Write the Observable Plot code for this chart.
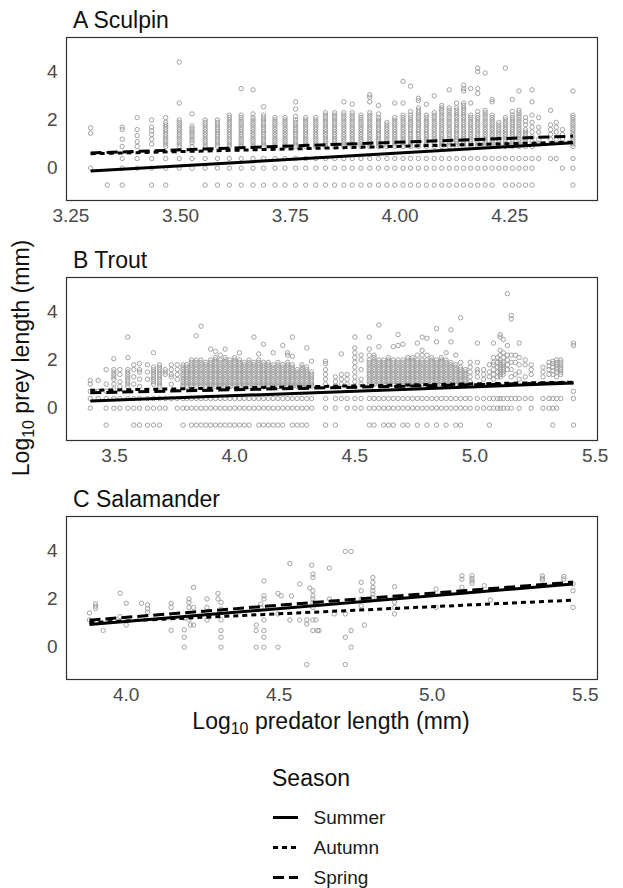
<!DOCTYPE html>
<html><head><meta charset="utf-8">
<script src="https://cdn.jsdelivr.net/npm/d3@7"></script>
<script src="https://cdn.jsdelivr.net/npm/@observablehq/plot@0.6"></script>
<style>
body{margin:0;background:#fff;}
#wrap{position:relative;width:623px;height:888px;font-family:"Liberation Sans",Arial,Helvetica,sans-serif;overflow:hidden;background:#fff;}
</style></head><body><div id="wrap"></div>
<script>
// ---------- DATA ----------
const seasons = ["Summer", "Autumn", "Spring"];
const yTicks = [0, 2, 4];
const sculpinTicks = [3.25, 3.5, 3.75, 4.0, 4.25];
const troutTicks = [3.5, 4.0, 4.5, 5.0, 5.5];
const salamanderTicks = [4.0, 4.5, 5.0, 5.5];

// Sculpin: predator x : prey y values in that column
const sculpinCols = [
"3.295:1.68 1.45 0",
"3.333:-0.7",
"3.367:1.7 1.6 1.2 0.9 0.4 0 -0.7",
"3.401:2.1 1.6 1.35 1.1 0.9 0.4 0",
"3.434:2.0 1.7 1.55 1.4 1.2 1.0 0.4 0 -0.7",
"3.466:2.1 1.9 1.8 1.7 1.6 1.5 1.4 1.3 1.2 1.1 1.0 0.9 0.4 0 -0.7",
"3.497:4.4 2.7 2.0 1.9 1.8 1.7 1.6 1.5 1.4 1.3 1.2 1.1 1.0 0.9 0.4 0",
"3.526:2.25 1.75 1.65 1.55 1.45 1.35 1.25 1.15 1.05 0.9 0.4 0",
"3.556:2.0 1.9 1.8 1.7 1.6 1.5 1.4 1.3 1.2 1.1 1.0 0.9 0.4 0 -0.7",
"3.584:2.0 1.9 1.8 1.7 1.6 1.5 1.4 1.3 1.2 1.1 1.0 0.9 0.4 0 -0.7",
"3.611:2.2 2.1 2.0 1.9 1.8 1.7 1.6 1.5 1.4 1.3 1.2 1.1 1.0 0.9 0.4 0 -0.7",
"3.638:3.3 2.2 2.1 2.0 1.9 1.8 1.7 1.6 1.5 1.4 1.3 1.2 1.1 1.0 0.9 0.4 0 -0.7",
"3.665:3.25 2.25 2.1 2.0 1.9 1.8 1.7 1.6 1.5 1.4 1.3 1.2 1.1 1.0 0.9 0.4 0 -0.7",
"3.689:2.55 2.2 2.1 2.0 1.9 1.8 1.7 1.6 1.5 1.4 1.3 1.2 1.1 1.0 0.9 0.4 0 -0.7",
"3.715:2.1 2.0 1.9 1.8 1.7 1.6 1.5 1.4 1.3 1.2 1.1 1.0 0.9 0.4 0 -0.7",
"3.738:2.1 2.0 1.9 1.8 1.7 1.6 1.5 1.4 1.3 1.2 1.1 1.0 0.9 0.4 0 -0.7",
"3.762:2.75 2.45 2.15 2.0 1.9 1.8 1.7 1.6 1.5 1.4 1.3 1.2 1.1 1.0 0.9 0.4 0 -0.7",
"3.785:2.1 2.0 1.9 1.8 1.7 1.6 1.5 1.4 1.3 1.2 1.1 1.0 0.9 0.4 0 -0.7",
"3.808:2.1 2.0 1.9 1.8 1.7 1.6 1.5 1.4 1.3 1.2 1.1 1.0 0.9 0.4 0 -0.7",
"3.830:2.3 2.2 2.1 2.0 1.9 1.8 1.7 1.6 1.5 1.4 1.3 1.2 1.1 1.0 0.9 0.4 0 -0.7",
"3.851:2.3 2.2 2.1 2.0 1.9 1.8 1.7 1.6 1.5 1.4 1.3 1.2 1.1 1.0 0.9 0.4 0 -0.7",
"3.872:2.75 2.3 2.2 2.1 2.0 1.9 1.8 1.7 1.6 1.5 1.4 1.3 1.2 1.1 1.0 0.9 0.4 0 -0.7",
"3.891:2.65 2.3 2.2 2.1 2.0 1.9 1.8 1.7 1.6 1.5 1.4 1.3 1.2 1.1 1.0 0.9 0.4 0 -0.7",
"3.911:2.2 2.1 2.0 1.9 1.8 1.7 1.6 1.5 1.4 1.3 1.2 1.1 1.0 0.9 0.4 0 -0.7",
"3.931:3.05 2.95 2.75 2.3 2.2 2.1 2.0 1.9 1.8 1.7 1.6 1.5 1.4 1.3 1.2 1.1 1.0 0.9 0.4 0 -0.7",
"3.951:2.6 2.25 2.1 2.0 1.9 1.8 1.7 1.6 1.5 1.4 1.3 1.2 1.1 1.0 0.9 0.4 0 -0.7",
"3.970:1.9 1.8 1.7 1.6 1.5 1.4 1.3 1.2 1.1 1.0 0.9 0.4 0 -0.7",
"3.988:2.7 2.1 2.0 1.9 1.8 1.7 1.6 1.5 1.4 1.3 1.2 1.1 1.0 0.9 0.4 0 -0.7",
"4.007:3.6 2.7 2.2 2.1 2.0 1.9 1.8 1.7 1.6 1.5 1.4 1.3 1.2 1.1 1.0 0.9 0.4 0 -0.7",
"4.024:3.4 2.35 2.2 2.1 2.0 1.9 1.8 1.7 1.6 1.5 1.4 1.3 1.2 1.1 1.0 0.9 0.4 0 -0.7",
"4.042:2.9 2.8 2.5 2.4 2.3 2.2 2.1 2.0 1.9 1.8 1.7 1.6 1.5 1.4 1.3 1.2 1.1 1.0 0.9 0.4 0 -0.7",
"4.060:2.65 2.2 2.1 2.0 1.9 1.8 1.7 1.6 1.5 1.4 1.3 1.2 1.1 1.0 0.9 0.4 0 -0.7",
"4.078:3.0 2.3 2.2 2.1 2.0 1.9 1.8 1.7 1.6 1.5 1.4 1.3 1.2 1.1 1.0 0.9 0.4 0 -0.7",
"4.095:2.6 2.5 2.4 2.3 2.2 2.1 2.0 1.9 1.8 1.7 1.6 1.5 1.4 1.3 1.2 1.1 1.0 0.9 0.4 0 -0.7",
"4.112:3.25 2.5 2.4 2.3 2.2 2.1 2.0 1.9 1.8 1.7 1.6 1.5 1.4 1.3 1.2 1.1 1.0 0.9 0.4 0 -0.7",
"4.129:2.7 2.5 2.4 2.3 2.2 2.1 2.0 1.9 1.8 1.7 1.6 1.5 1.4 1.3 1.2 1.1 1.0 0.9 0.4 0 -0.7",
"4.145:3.45 3.3 3.2 2.7 2.6 2.5 2.4 2.3 2.2 2.1 2.0 1.9 1.8 1.7 1.6 1.5 1.4 1.3 1.2 1.1 1.0 0.9 0.4 0 -0.7",
"4.161:3.3 2.7 2.2 2.1 2.0 1.9 1.8 1.7 1.6 1.5 1.4 1.3 1.2 1.1 1.0 0.9 0.4 0 -0.7",
"4.177:4.15 4.0 3.3 3.1 2.35 2.2 2.1 2.0 1.9 1.8 1.7 1.6 1.5 1.4 1.3 1.2 1.1 1.0 0.9 0.4 0 -0.7",
"4.194:3.95 2.4 2.3 2.2 2.1 2.0 1.9 1.8 1.7 1.6 1.5 1.4 1.3 1.2 1.1 1.0 0.9 0.4 0 -0.7",
"4.210:2.85 2.75 2.2 2.1 2.0 1.9 1.8 1.7 1.6 1.5 1.4 1.3 1.2 1.1 1.0 0.9 0.4 0 -0.7",
"4.225:1.9 1.8 1.7 1.6 1.5 1.4 1.3 1.2 1.1 1.0 0.9 0.4 0",
"4.240:4.15 2.1 2.0 1.9 1.8 1.7 1.6 1.5 1.4 1.3 1.2 1.1 1.0 0.9 0.4 0 -0.7",
"4.256:2.85 2.35 2.2 2.1 2.0 1.9 1.8 1.7 1.6 1.5 1.4 1.3 1.2 1.1 1.0 0.9 0.4 0 -0.7",
"4.271:3.2 2.4 2.3 2.2 2.1 2.0 1.9 1.8 1.7 1.6 1.5 1.4 1.3 1.2 1.1 1.0 0.9 0.4 0 -0.7",
"4.286:2.1 1.95 1.8 1.6 1.5 1.4 1.3 1.2 1.1 1.0 0.9 0.4 0 -0.7",
"4.301:3.25 2.75 2.2 1.9 1.7 1.5 1.3 1.1 0.9 0.4 0 -0.7",
"4.316:2.1 1.7 1.5 1.2 1.0 0.4",
"4.343:2.4 1.8 1.6 1.4 1.2 0.4",
"4.356:1.9 1.7 1.5 1.2 0.4",
"4.370:1.6 1.4 1.2 0",
"4.394:3.2 2.2 2.1 2.0 1.9 1.8 1.7 1.6 1.5 1.4 1.3 1.2 1.1 1.0 0.9 0.4 0 -0.7"
];

const troutCols = [
"3.399:1.15 1.0 0.7 0.4 0",
"3.432:1.15 0.7 0.4",
"3.465:1.6 1.0 0.7 0.4 0 -0.7",
"3.497:2.05 1.6 1.5 1.4 1.3 1.2 1.0 0.8 0.4 0",
"3.522:1.6 1.4 1.1 0.9 0.4 0",
"3.555:2.95 2.1 1.6 1.5 1.4 1.3 1.2 1.1 1.0 0.9 0.4 0",
"3.580:1.8 1.6 1.3 1.0 0.4 0 -0.7",
"3.604:1.85 1.6 1.5 1.2 0.9 0.4 0 -0.7",
"3.637:1.8 1.5 1.2 0.4 0 -0.7",
"3.662:2.3 1.7 1.6 1.5 1.4 1.3 1.2 1.1 1.0 0.4 0 -0.7",
"3.687:1.8 1.7 1.6 1.5 1.4 1.3 1.2 1.1 1.0 0.9 0.4 0 -0.7",
"3.711:1.6 1.5 1.4 0.4 0",
"3.736:1.8 1.6 1.4 1.3 1.0 0.4",
"3.761:1.8 1.6 1.4 1.2 0.4 0",
"3.785:1.8 1.7 1.6 1.5 1.4 1.3 1.2 1.1 1.0 0.9 0.4 0 -0.7",
"3.80:1.8 1.7 1.6 1.5 1.4 1.3 1.2 1.1 1.0 0.9 0.4 0",
"3.82:2.0 1.9 1.8 1.7 1.6 1.5 1.4 1.3 1.2 1.1 1.0 0.9 0.4 0 -0.7",
"3.84:3.0 2.0 1.9 1.8 1.7 1.6 1.5 1.4 1.3 1.2 1.1 1.0 0.9 0.4 0 -0.7",
"3.86:3.4 2.0 1.9 1.8 1.7 1.6 1.5 1.4 1.3 1.2 1.1 1.0 0.9 0.4 0 -0.7",
"3.88:1.9 1.8 1.7 1.6 1.5 1.4 1.3 1.2 1.1 1.0 0.9 0.4 0 -0.7",
"3.90:2.45 2.0 1.9 1.8 1.7 1.6 1.5 1.4 1.3 1.2 1.1 1.0 0.9 0.4 0 -0.7",
"3.92:2.35 2.1 2.0 1.9 1.8 1.7 1.6 1.5 1.4 1.3 1.2 1.1 1.0 0.9 0.4 0 -0.7",
"3.94:2.2 2.0 1.9 1.8 1.7 1.6 1.5 1.4 1.3 1.2 1.1 1.0 0.9 0.4 0 -0.7",
"3.96:2.45 2.1 2.0 1.9 1.8 1.7 1.6 1.5 1.4 1.3 1.2 1.1 1.0 0.9 0.4 0 -0.7",
"3.98:2.0 1.9 1.8 1.7 1.6 1.5 1.4 1.3 1.2 1.1 1.0 0.9 0.4 0 -0.7",
"4.00:2.1 2.0 1.9 1.8 1.7 1.6 1.5 1.4 1.3 1.2 1.1 1.0 0.9 0.4 0 -0.7",
"4.02:2.3 2.0 1.9 1.8 1.7 1.6 1.5 1.4 1.3 1.2 1.1 1.0 0.9 0.4 0 -0.7",
"4.04:1.9 1.8 1.7 1.6 1.5 1.4 1.3 1.2 1.1 1.0 0.9 0.4 0 -0.7",
"4.06:2.0 1.9 1.8 1.7 1.6 1.5 1.4 1.3 1.2 1.1 1.0 0.9 0.4 0 -0.7",
"4.08:2.95 1.9 1.8 1.7 1.6 1.5 1.4 1.3 1.2 1.1 1.0 0.9 0.4 0",
"4.10:2.25 2.0 1.9 1.8 1.7 1.6 1.5 1.4 1.3 1.2 1.1 1.0 0.9 0.4 0 -0.7",
"4.12:2.65 1.9 1.8 1.7 1.6 1.5 1.4 1.3 1.2 1.1 1.0 0.9 0.4 0 -0.7",
"4.14:1.9 1.8 1.7 1.6 1.5 1.4 1.3 1.2 1.1 1.0 0.9 0.4 0 -0.7",
"4.16:2.3 1.8 1.7 1.6 1.5 1.4 1.3 1.2 1.1 1.0 0.9 0.4 0 -0.7",
"4.18:1.9 1.8 1.7 1.6 1.5 1.4 1.3 1.2 1.1 1.0 0.9 0.4 0 -0.7",
"4.20:2.6 1.8 1.7 1.6 1.5 1.4 1.3 1.2 1.1 1.0 0.9 0.4 0 -0.7",
"4.22:2.3 2.2 1.9 1.8 1.7 1.6 1.5 1.4 1.3 1.2 1.1 1.0 0.9 0.4 0",
"4.24:2.95 2.15 1.8 1.7 1.6 1.5 1.4 1.3 1.2 1.1 1.0 0.9 0.4 0 -0.7",
"4.26:1.6 1.5 1.4 1.3 1.2 1.1 1.0 0.9 0.4 0 -0.7",
"4.28:1.8 1.7 1.6 1.5 1.4 1.3 1.2 1.1 1.0 0.9 0.4 0 -0.7",
"4.30:2.5 1.7 1.6 1.5 1.4 1.3 1.2 1.1 1.0 0.9 0.4 0 -0.7",
"4.32:1.95 1.5 1.4 1.3 1.2 1.1 1.0 0.9 0.4 0",
"4.378:1.95 1.85 1.6 1.4 1.2 1.0 0.4 0 -0.7",
"4.419:1.3 1.1 0.9 0.4 0 -0.7",
"4.444:2.25 1.4 1.2 1.0 0.4",
"4.468:1.4 1.2 1.0 0.4 0",
"4.500:2.95 2.5 2.3 2.1 1.9 1.7 1.5 1.3 1.1 0.4 0",
"4.526:2.2 2.0 1.6 1.2 1.0 0.4 0",
"4.56:2.95 2.45 2.2 2.0 1.9 1.8 1.7 1.6 1.5 1.4 1.3 1.2 1.1 1.0 0.4 0 -0.7",
"4.58:2.2 2.1 2.0 1.9 1.8 1.7 1.6 1.5 1.4 1.3 1.2 1.1 1.0 0.4 0 -0.7",
"4.60:3.45 2.55 2.0 1.9 1.8 1.7 1.6 1.5 1.4 1.3 1.2 1.1 1.0 0.4 0",
"4.62:2.0 1.9 1.8 1.7 1.6 1.5 1.4 1.3 1.2 1.1 1.0 0.4 0 -0.7",
"4.64:2.1 2.0 1.9 1.8 1.7 1.6 1.5 1.4 1.3 1.2 1.1 1.0 0.4 0 -0.7",
"4.66:2.55 2.0 1.9 1.8 1.7 1.6 1.5 1.4 1.3 1.2 1.1 1.0 0.4 0 -0.7",
"4.68:3.05 2.6 2.0 1.9 1.8 1.7 1.6 1.5 1.4 1.3 1.2 1.1 1.0 0.4 0",
"4.70:2.65 2.0 1.9 1.8 1.7 1.6 1.5 1.4 1.3 1.2 1.1 1.0 0.4 0 -0.7",
"4.72:2.1 2.0 1.9 1.8 1.7 1.6 1.5 1.4 1.3 1.2 1.1 1.0 0.4 0 -0.7",
"4.74:2.1 2.0 1.9 1.8 1.7 1.6 1.5 1.4 1.3 1.2 1.1 1.0 0.4 0",
"4.76:2.7 2.2 2.0 1.9 1.8 1.7 1.6 1.5 1.4 1.3 1.2 1.1 1.0 0.4 0 -0.7",
"4.78:2.95 2.4 2.2 2.0 1.9 1.8 1.7 1.6 1.5 1.4 1.3 1.2 1.1 1.0 0.4 0",
"4.80:2.9 2.2 2.0 1.9 1.8 1.7 1.6 1.5 1.4 1.3 1.2 1.1 1.0 0.4 0 -0.7",
"4.82:2.1 2.0 1.9 1.8 1.7 1.6 1.5 1.4 1.3 1.2 1.1 1.0 0.4 0",
"4.84:3.3 2.75 2.0 1.9 1.8 1.7 1.6 1.5 1.4 1.3 1.2 1.1 1.0 0.4 0 -0.7",
"4.86:2.1 2.0 1.9 1.8 1.7 1.6 1.5 1.4 1.3 1.2 1.1 1.0 0.4 0",
"4.88:2.3 2.0 1.9 1.8 1.7 1.6 1.5 1.4 1.3 1.2 1.1 1.0 0.4 0 -0.7",
"4.90:3.25 2.75 1.9 1.8 1.7 1.6 1.5 1.4 1.3 1.2 1.1 1.0 0.4 0",
"4.92:2.2 1.8 1.7 1.6 1.5 1.4 1.3 1.2 1.1 1.0 0.4 0 -0.7",
"4.94:3.75 1.9 1.7 1.6 1.5 1.4 1.3 1.2 1.1 1.0 0.4 0 -0.7",
"4.96:1.6 1.5 1.4 1.3 1.2 1.1 1.0 0.4 0",
"4.98:1.9 1.7 1.5 1.3 1.1 0.4 0",
"5.01:2.7 1.9 1.6 1.5 1.3 0.4 0",
"5.036:1.6 1.4 1.2 0.4 0",
"5.06:1.8 1.5 1.3 0.4 0 -0.7",
"5.077:2.7 2.1 1.9 1.8 1.6 1.4 1.2 0.4 0",
"5.094:2.1 1.9 1.7 1.5 1.3 0.4 0",
"5.105:3.05 2.95 2.4 2.2 2.0 1.9 1.8 1.7 1.6 1.5 1.4 1.3 0.4 0",
"5.118:2.85 2.3 2.1 1.9 1.8 1.7 1.6 1.5 1.4 0.4 0",
"5.135:4.75 2.6 2.2 2.0 1.8 1.6 0.4 0",
"5.151:3.85 3.7 2.2 1.9 1.6 1.3 0.4 0",
"5.168:2.2 1.9 1.4 0.4",
"5.184:2.7 2.1 1.8 1.5 1.2 0.4 0",
"5.209:2.0 1.8 1.3 0.4",
"5.234:1.8 1.6 1.4 0.4 0",
"5.283:1.7 1.5 1.3 0.4 0",
"5.308:1.9 1.75 1.6 1.4 0.4 0",
"5.324:1.95 1.85 1.7 1.55 1.4 0.4 0 -0.7",
"5.340:2.0 1.9 1.8 1.7 1.6 1.5 1.3 0.4 0",
"5.357:2.0 1.9 1.8 1.7 1.6 1.5 1.4 0.4",
"5.41:2.7 2.6 0.7 0.4 -0.7"
];

// Salamander: "x y" pairs
const salamanderPts = "3.88 1.42,3.88 1.13,3.90 1.8,3.90 1.7,3.90 1.6,3.925 0.7,3.98 2.24,3.98 1.27,4.0 1.82,4.0 0.92,4.05 1.82,4.07 1.76,4.07 1.6,4.07 1.45,4.147 1.82,4.147 1.65,4.147 0.7,4.19 0.72,4.19 0.41,4.19 0.0,4.19 1.2,4.205 2.0,4.205 1.86,4.205 1.65,4.205 1.13,4.21 0.92,4.22 2.48,4.22 1.65,4.22 0.92,4.264 2.0,4.264 1.65,4.264 1.13,4.30 2.23,4.30 2.0,4.31 1.86,4.31 1.58,4.31 1.13,4.31 0.69,4.31 0.41,4.31 0.0,4.425 0.92,4.425 0.69,4.425 0.0,4.44 1.65,4.44 1.79,4.45 2.75,4.45 2.13,4.45 2.0,4.45 1.13,4.45 0.69,4.45 0.41,4.45 0.0,4.496 2.23,4.496 0.0,4.506 2.13,4.496 1.38,4.535 1.13,4.535 3.47,4.54 2.13,4.567 2.62,4.567 1.13,4.59 0.96,4.59 1.13,4.59 -0.72,4.60 2.45,4.606 3.4,4.61 3.03,4.61 2.89,4.61 2.34,4.61 2.13,4.61 2.0,4.61 1.86,4.61 1.65,4.61 1.13,4.61 0.69,4.62 1.13,4.625 0.69,4.63 0.69,4.664 3.28,4.664 2.0,4.68 1.38,4.716 3.97,4.735 3.97,4.716 1.38,4.716 0.41,4.716 -0.72,4.735 0.69,4.735 0.0,4.768 2.69,4.768 2.34,4.768 2.0,4.768 1.72,4.778 0.92,4.806 2.89,4.806 2.69,4.806 2.48,4.806 2.34,4.806 2.2,4.806 2.07,4.877 2.51,4.877 1.86,4.877 1.65,4.877 1.38,5.013 2.41,5.013 1.65,5.097 2.96,5.097 2.82,5.097 2.48,5.13 2.96,5.13 2.85,5.13 2.75,5.13 2.65,5.17 2.55,5.19 1.96,5.36 2.96,5.36 2.86,5.36 2.78,5.43 2.93,5.43 2.83,5.46 2.62,5.46 2.34,5.46 1.65";

// Fitted lines per season (order: Summer, Autumn, Spring)
const sculpinFitX = [3.295, 4.394];
const sculpinFitStart = [-0.12, 0.60, 0.63];
const sculpinFitEnd = [1.05, 1.08, 1.33];
const troutFitX = [3.399, 5.41];
const troutFitStart = [0.30, 0.74, 0.64];
const troutFitEnd = [1.04, 1.08, 1.06];
const salamanderFitX = [3.88, 5.46];
const salamanderFitStart = [0.94, 1.02, 1.12];
const salamanderFitEnd = [2.62, 1.95, 2.70];

// ---------- BUILD ----------
const FONT = '"Liberation Sans", Arial, Helvetica, sans-serif';
const dashes = {Summer: null, Autumn: "5,4", Spring: "11,5"};

function parseCols(cols) {
  const out = [];
  for (const c of cols) {
    const [xs, ys] = c.split(":");
    for (const y of ys.trim().split(/\s+/)) out.push({x: +xs, y: +y});
  }
  return out;
}
function parsePairs(s) {
  return s.split(",").map(p => { const [x, y] = p.trim().split(/\s+/); return {x: +x, y: +y}; });
}
function fits(fx, start, end) {
  return seasons.map((s, i) => ({season: s, x1: fx[0], y1: start[i], x2: fx[1], y2: end[i]}));
}

const FRAME_H = 163, MT = 4, MB = 40;
function panel(points, fitRows, xDomain, xTicks, fmt) {
  return Plot.plot({
    width: 623, height: FRAME_H + MT + MB,
    marginLeft: 66, marginRight: 26, marginTop: MT, marginBottom: MB,
    style: {fontFamily: FONT, fontSize: "19px", color: "#4a4a4a", background: "transparent", overflow: "visible"},
    x: {domain: xDomain},
    y: {domain: [-1.34, 5.42]},
    marks: [
      Plot.dot(points, {x: "x", y: "y", r: 2.2, stroke: "#999", strokeWidth: 0.9, fill: "none"}),
      ...["Spring", "Autumn", "Summer"].map(s =>
        Plot.link(fitRows.filter(f => f.season === s), {x1: "x1", y1: "y1", x2: "x2", y2: "y2",
          stroke: "#000", strokeWidth: 3, strokeDasharray: dashes[s]})),
      Plot.frame({stroke: "#333", strokeWidth: 1.2}),
      Plot.axisX({ticks: xTicks, tickFormat: fmt, tickSize: 0, tickPadding: 8, label: null}),
      Plot.axisY({ticks: yTicks, tickFormat: d3.format("d"), tickSize: 0, tickPadding: 9, label: null})
    ]
  });
}

const wrap = document.getElementById("wrap");
const frameTops = [37.3, 276.7, 516];
const panels = [
  panel(parseCols(sculpinCols), fits(sculpinFitX, sculpinFitStart, sculpinFitEnd), [3.24, 4.45], sculpinTicks, d3.format(".2f")),
  panel(parseCols(troutCols), fits(troutFitX, troutFitStart, troutFitEnd), [3.30, 5.51], troutTicks, d3.format(".1f")),
  panel(parsePairs(salamanderPts), fits(salamanderFitX, salamanderFitStart, salamanderFitEnd), [3.805, 5.54], salamanderTicks, d3.format(".1f"))
];
panels.forEach((p, i) => {
  p.style.position = "absolute";
  p.style.left = "0px";
  p.style.top = (frameTops[i] - MT) + "px";
  wrap.appendChild(p);
});

// Legend (drawn with Plot)
const legend = Plot.plot({
  width: 200, height: 80, margin: 0,
  style: {fontFamily: FONT, fontSize: "19px", color: "#1a1a1a", background: "transparent", overflow: "visible"},
  x: {domain: [0, 200], range: [0, 200], axis: null},
  y: {type: "point", domain: seasons, range: [10, 70], padding: 0, axis: null},
  marks: [
    ...seasons.map(s => Plot.ruleY([s], {y: d => d, x1: 0, x2: 25, stroke: "#000", strokeWidth: 3, strokeDasharray: dashes[s]})),
    Plot.text(seasons, {x: 40, y: d => d, text: d => d, textAnchor: "start", fill: "#1a1a1a", fontSize: 19})
  ]
});
legend.style.position = "absolute";
legend.style.left = "273px";
legend.style.top = "807px";
wrap.appendChild(legend);

// Text overlay: panel titles, axis titles, legend title
const ns = "http://www.w3.org/2000/svg";
const ov = document.createElementNS(ns, "svg");
ov.setAttribute("width", 623); ov.setAttribute("height", 888);
ov.style.position = "absolute"; ov.style.left = "0"; ov.style.top = "0"; ov.style.pointerEvents = "none";
ov.setAttribute("font-family", FONT);
wrap.appendChild(ov);
function txt(x, y, html, size, anchor, extra) {
  const t = document.createElementNS(ns, "text");
  t.setAttribute("x", x); t.setAttribute("y", y);
  t.setAttribute("font-size", size); t.setAttribute("fill", "#111");
  t.setAttribute("text-anchor", anchor || "start");
  if (extra) for (const k in extra) t.setAttribute(k, extra[k]);
  t.innerHTML = html;
  ov.appendChild(t);
  return t;
}
const titles = ["A Sculpin", "B Trout", "C Salamander"];
titles.forEach((t, i) => txt(73, frameTops[i] - 9, t, 23));
txt(331, 729, 'Log<tspan font-size="16" dy="5">10</tspan><tspan dy="-5"> predator length (mm)</tspan>', 23, "middle");
txt(0, 0, 'Log<tspan font-size="16" dy="5">10</tspan><tspan dy="-5"> prey length (mm)</tspan>', 23, "middle",
  {transform: "translate(29,358) rotate(-90)"});
txt(272, 786, "Season", 23);
</script>
</body></html>
